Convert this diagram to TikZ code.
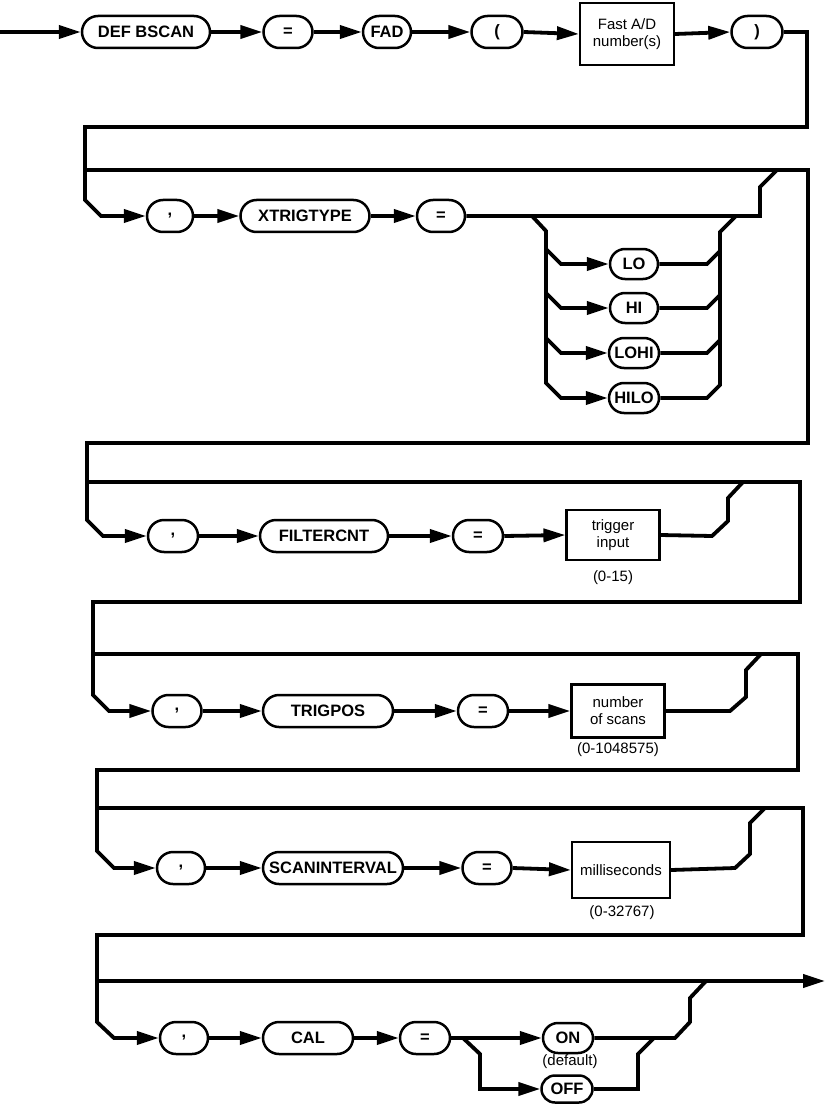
\documentclass[tikz,border=0pt]{standalone}
\usepackage{fontspec}
\setmainfont{Liberation Sans}
\usetikzlibrary{arrows.meta,shapes.misc}
\newcommand{\kwfont}{\fontsize{16.5pt}{18pt}\selectfont\bfseries}
\newcommand{\smfont}{\fontsize{15pt}{17pt}\selectfont}
\begin{document}
\begin{tikzpicture}[x=1pt,y=-1pt,
 term/.style={draw,rounded rectangle,line width=2.5pt,inner sep=0pt,minimum height=32pt,font=\kwfont},
 lbox/.style={draw,rectangle,line width=2.2pt,inner sep=0pt,align=center,font=\smfont},
 note/.style={inner sep=0pt,font=\smfont},
 flow/.style={line width=3.8pt},
 arr/.style={flow,-{Triangle[length=22pt,width=13pt]}},
]
\useasboundingbox (0,0) rectangle (825,1107);

% ---------- row 1
\coordinate (start) at (0,32);
\node[term,minimum width=128pt] (defb) at (146,32) {DEF BSCAN};
\node[term,minimum width=49pt] (eq1) at (288,32) {=};
\node[term,minimum width=48pt] (fad) at (387,32) {FAD};
\node[term,minimum width=51pt] (lp) at (497,32) {(};
\node[lbox,minimum width=94pt,minimum height=62pt] (fast) at (627,34) {Fast A/D\\number(s)};
\node[term,minimum width=51pt] (rp) at (757,32) {)};
\draw[arr] (start) -- (defb.west);
\draw[arr] (defb.east) -- (eq1.west);
\draw[arr] (eq1.east) -- (fad.west);
\draw[arr] (fad.east) -- (lp.west);
\draw[arr] (lp.east) -- (fast.west);
\draw[arr] (fast.east) -- (rp.west);

% ---------- row 2: XTRIGTYPE
\node[term,minimum width=46pt] (c1) at (170,216) {,};
\node[term,minimum width=129pt] (xtrig) at (305,216) {XTRIGTYPE};
\node[term,minimum width=48pt] (eq2) at (441,216) {=};
\node[term,minimum width=48pt,minimum height=30pt] (lo) at (634,264) {LO};
\node[term,minimum width=48pt,minimum height=30pt] (hi) at (634,308) {HI};
\node[term,minimum width=50pt,minimum height=30pt] (lohi) at (634,353) {LOHI};
\node[term,minimum width=50pt,minimum height=30pt] (hilo) at (634,398) {HILO};
\draw[arr] (rp.east) -- (807,32) -- (807,127) -- (85,127) -- (85,200) -- (101,216) -- (c1.west);
\draw[arr] (c1.east) -- (xtrig.west);
\draw[arr] (xtrig.east) -- (eq2.west);
\draw[flow] (eq2.east) -- (760,216) -- (760,187) -- (777,170);
\draw[arr] (532,216) -- (546,231) -- (546,383) -- (561,398) -- (hilo.west);
\draw[arr] (546,249) -- (561,264) -- (lo.west);
\draw[arr] (546,293) -- (561,308) -- (hi.west);
\draw[arr] (546,338) -- (561,353) -- (lohi.west);
\draw[flow] (lo.east) -- (707,264) -- (720,251);
\draw[flow] (hi.east) -- (707,308) -- (720,295);
\draw[flow] (lohi.east) -- (707,353) -- (720,340);
\draw[flow] (736,216) -- (720,232) -- (720,385) -- (707,398) -- (hilo.east);

% ---------- row 3: FILTERCNT
\node[term,minimum width=50pt] (c2) at (173,536) {,};
\node[term,minimum width=128pt] (filt) at (324,536) {FILTERCNT};
\node[term,minimum width=50pt] (eq3) at (478,536) {=};
\node[lbox,minimum width=93pt,minimum height=50pt] (trig) at (613,535) {trigger\\input};
\node[note] (r15) at (613,578) {(0-15)};
\draw[arr] (85,170) -- (808,170) -- (808,443) -- (87,443) -- (87,520) -- (103,536) -- (c2.west);
\draw[arr] (c2.east) -- (filt.west);
\draw[arr] (filt.east) -- (eq3.west);
\draw[arr] (eq3.east) -- (trig.west);
\draw[flow] (trig.east) -- (712,536) -- (728,521) -- (728,498) -- (743,482);

% ---------- row 4: TRIGPOS
\node[term,minimum width=49pt] (c3) at (177,711) {,};
\node[term,minimum width=130pt] (trigpos) at (328,711) {TRIGPOS};
\node[term,minimum width=50pt] (eq4) at (483,711) {=};
\node[lbox,minimum width=93pt,minimum height=53pt] (nos) at (618,711) {number\\of scans};
\node[note] (r1m) at (618,750) {(0-1048575)};
\draw[arr] (87,482) -- (800,482) -- (800,602) -- (93,602) -- (93,695) -- (109,711) -- (c3.west);
\draw[arr] (c3.east) -- (trigpos.west);
\draw[arr] (trigpos.east) -- (eq4.west);
\draw[arr] (eq4.east) -- (nos.west);
\draw[flow] (nos.east) -- (730,711) -- (746,697) -- (746,670) -- (761,654);

% ---------- row 5: SCANINTERVAL
\node[term,minimum width=48pt] (c4) at (181,868) {,};
\node[term,minimum width=140pt] (scan) at (333,868) {SCANINTERVAL};
\node[term,minimum width=49pt] (eq5) at (487,868) {=};
\node[lbox,minimum width=98pt,minimum height=56pt] (ms) at (621,870) {milliseconds};
\node[note] (r32k) at (622,913) {(0-32767)};
\draw[arr] (93,654) -- (798,654) -- (798,770) -- (97,770) -- (97,851) -- (114,868) -- (c4.west);
\draw[arr] (c4.east) -- (scan.west);
\draw[arr] (scan.east) -- (eq5.west);
\draw[arr] (eq5.east) -- (ms.west);
\draw[flow] (ms.east) -- (735,868) -- (750,854) -- (750,823) -- (765,808);

% ---------- row 6: CAL
\node[term,minimum width=48pt] (c5) at (184,1038) {,};
\node[term,minimum width=90pt] (cal) at (308,1038) {CAL};
\node[term,minimum width=50pt] (eq6) at (425,1038) {=};
\node[term,minimum width=50pt,minimum height=30pt] (on) at (568,1038) {ON};
\node[note] (dflt) at (570,1062) {(default)};
\node[term,minimum width=51pt,minimum height=27pt] (off) at (567,1089) {OFF};
\draw[arr] (97,808) -- (803,808) -- (803,935) -- (97,935) -- (97,1022) -- (114,1038) -- (c5.west);
\draw[arr] (c5.east) -- (cal.west);
\draw[arr] (cal.east) -- (eq6.west);
\draw[arr] (eq6.east) -- (on.west);
\draw[arr] (463,1038) -- (480,1054) -- (480,1089) -- (off.west);
\draw[flow] (off.east) -- (638,1089) -- (638,1054) -- (654,1038);
\draw[flow] (on.east) -- (675,1038) -- (690,1022) -- (690,998) -- (706,981);
\coordinate (finish) at (825,981);
\draw[arr] (97,981) -- (finish);
\end{tikzpicture}
\end{document}
